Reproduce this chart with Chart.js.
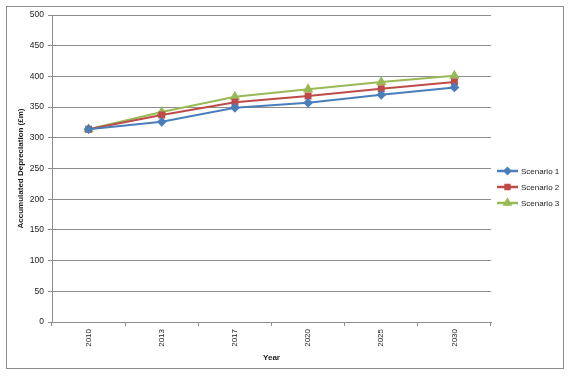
<!DOCTYPE html>
<html>
<head>
<meta charset="utf-8">
<script src="https://cdn.jsdelivr.net/npm/chart.js@4/dist/chart.umd.min.js"></script>
<style>
  html, body { margin: 0; padding: 0; background: #fff; }
  #wrap { width: 571px; height: 377px; position: relative; }
</style>
</head>
<body>
<div id="wrap"><canvas id="chart" width="571" height="377"></canvas></div>
<script>
// dati
const years = ["2010", "2013", "2017", "2020", "2025", "2030"];
const scenario1 = [314, 326, 349, 357, 370, 382];
const scenario2 = [314, 337, 358, 368, 380, 391];
const scenario3 = [314, 342, 367, 379, 391, 401];
const seriesNames = ["Scenario 1", "Scenario 2", "Scenario 3"];
const yTicks = [0, 50, 100, 150, 200, 250, 300, 350, 400, 450, 500];

const FONT = "'Liberation Sans', Arial, sans-serif";
const colors = ["#4A7EBB", "#BE4B48", "#98B954"];
const markers = ["rectRot", "rect", "triangle"];
const radii = [3.5, 3.5, 4];

// bordo esterno + legenda disegnata a mano (linea con marker)
const frameLegend = {
  id: "frameLegend",
  afterDraw(chart) {
    const c = chart.ctx;
    c.save();
    c.strokeStyle = "#8c8c8c";
    c.lineWidth = 1;
    c.strokeRect(6.5, 6.5, 557, 362);

    const ys = [171, 187, 203];
    chart.data.datasets.forEach((ds, i) => {
      const y = ys[i];
      c.strokeStyle = ds.borderColor;
      c.lineWidth = 2.5;
      c.beginPath();
      c.moveTo(497, y);
      c.lineTo(518, y);
      c.stroke();
      Chart.helpers.drawPoint(c, {
        pointStyle: ds.pointStyle, radius: ds.pointRadius - 0.8, rotation: 0, borderWidth: 1
      }, 507.5, y);
      c.fillStyle = ds.borderColor;
      c.fill();
      c.fillStyle = "#1a1a1a";
      c.font = "8px " + FONT;
      c.textBaseline = "middle";
      c.textAlign = "left";
      c.fillText(ds.label, 521, y + 0.5);
    });
    c.restore();
  }
};

const seriesData = [scenario1, scenario2, scenario3];

new Chart(document.getElementById("chart").getContext("2d"), {
  type: "line",
  data: {
    labels: years,
    datasets: seriesData.map((d, i) => ({
      label: seriesNames[i],
      data: d,
      borderColor: colors[i],
      backgroundColor: colors[i],
      pointBackgroundColor: colors[i],
      pointBorderColor: colors[i],
      pointStyle: markers[i],
      pointRadius: radii[i],
      borderWidth: 2,
      tension: 0,
      fill: false,
    })),
  },
  options: {
    responsive: false,
    animation: false,
    layout: { padding: { top: 15, right: 80, bottom: 0, left: 0 } },
    plugins: {
      legend: { display: false },
      tooltip: { enabled: false },
    },
    scales: {
      x: {
        offset: true,
        grid: { offset: true, drawOnChartArea: false, drawTicks: true, tickLength: 4, color: "#8c8c8c" },
        border: { color: "#8c8c8c", width: 1 },
        ticks: {
          minRotation: 90, maxRotation: 90, padding: 3,
          color: "#1a1a1a", font: { family: FONT, size: 8 },
        },
        title: {
          display: true, text: "Year", color: "#1a1a1a",
          font: { family: FONT, size: 8, weight: "bold" }, padding: { top: 0, bottom: 14 },
        },
        afterFit(scale) { scale.height = 55; },
      },
      y: {
        min: 0, max: 500,
        afterBuildTicks(scale) { scale.ticks = yTicks.map(v => ({ value: v })); },
        grid: { color: "#8c8c8c", tickLength: 4 },
        border: { color: "#8c8c8c", width: 1 },
        ticks: { color: "#1a1a1a", padding: 4, font: { family: FONT, size: 8.5 } },
        title: {
          display: true, text: "Accumulated Depreciation (£m)", color: "#1a1a1a",
          font: { family: FONT, size: 8, weight: "bold" }, padding: { top: 16, bottom: 0 },
        },
        afterFit(scale) { scale.width = 52; },
      },
    },
  },
  plugins: [frameLegend],
});
</script>
</body>
</html>
